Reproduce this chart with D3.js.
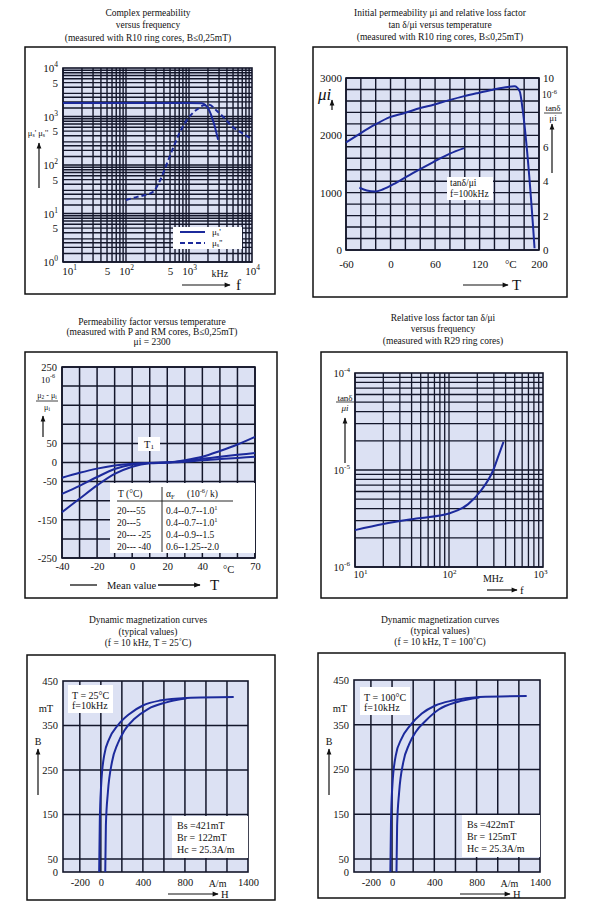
<!DOCTYPE html>
<html><head><meta charset="utf-8">
<script src="https://cdn.jsdelivr.net/npm/d3@7"></script>
<style>body{margin:0;background:#fff}</style>
</head><body>
<svg id="c" width="600" height="915"></svg>
<script>
// ---------------- DATA ----------------
// Panel 1: complex permeability vs frequency (kHz)
const p1FreqReal = [10, 100, 1000, 1600, 1800, 2000, 2500, 2900];
const p1MuReal   = [1900, 1900, 1900, 1880, 1750, 1500, 700, 330];
const p1FreqImag = [100, 150, 200, 270, 350, 450, 560, 720, 930, 1150, 1400, 1700, 2100, 2700, 3500, 5000, 7000, 9500];
const p1MuImag   = [19, 22, 24, 28, 49, 110, 225, 480, 850, 1180, 1450, 1700, 1750, 1350, 980, 600, 455, 355];
const p1XTicks = [10, 50, 100, 500, 1000, 10000];
const p1XLabels = ["10^{1}", "5", "10^{2}", "5", "10^{3}", "10^{4}"];
const p1YTicks = [1, 5, 10, 50, 100, 500, 1000, 5000, 10000];
const p1YLabels = ["10^{0}", "5", "10^{1}", "5", "10^{2}", "5", "10^{3}", "5", "10^{4}"];

// Panel 2: initial permeability and loss factor vs temperature
const p2TempMu = [-60, -40, -21, -1, 19, 40, 58, 78, 98, 118, 138, 158, 167, 174, 178, 185, 192, 194];
const p2Mu     = [1876, 2040, 2185, 2318, 2390, 2476, 2535, 2610, 2680, 2740, 2796, 2843, 2854, 2767, 2447, 1573, 408, 30];
const p2TempLoss = [-42, -32, -21, -10, 8, 30, 57, 80, 99];
const p2Loss     = [3.63, 3.46, 3.40, 3.53, 3.92, 4.47, 5.1, 5.6, 5.92];
const p2XTicks = [-60, 0, 60, 120, 200];
const p2YTicks = [0, 1000, 2000, 3000];
const p2Y2Ticks = [0, 2, 4, 6, 10];

// Panel 3: permeability factor vs temperature
const p3Temp  = [-40, -30, -20, -10, 0, 10, 20, 30, 40, 50, 60, 70];
const p3Steep = [-130, -95, -60, -30, -11, -2, 0, 6, 15, 30, 47, 67];
const p3Mid   = [-82, -61, -38, -17, -5, -1, 0, 4, 10, 15, 20, 25];
const p3Flat  = [-40, -27, -16, -8, -3, -1, 0, 2, 6, 9, 12, 15];
const p3XTicks = [-40, -20, 0, 20, 40, 70];
const p3YTicks = [-250, -150, -50, 0, 50, 250];
const p3TableT = ["20---55", "20---5", "20--- -25", "20--- -40"];
const p3TableAlpha = ["0.4--0.7--1.0^{1}", "0.4--0.7--1.0^{1}", "0.4--0.9--1.5", "0.6--1.25--2.0"];

// Panel 4: relative loss factor vs frequency (MHz)
const p4Freq = [10, 20, 45, 100, 160, 215, 296, 340, 380];
const p4Loss = [2.4e-6, 2.77e-6, 3.16e-6, 3.56e-6, 4.45e-6, 6e-6, 1e-5, 1.45e-5, 1.95e-5];
const p4XTicks = [10, 100, 1000];
const p4XLabels = ["10^{1}", "10^{2}", "10^{3}"];
const p4YTicks = [1e-6, 1e-5, 1e-4];
const p4YLabels = ["10^{-6}", "10^{-5}", "10^{-4}"];

// Panel 5: dynamic magnetization, 25 °C
const p5HLeft  = [-16, -10, 3, 32, 80, 160, 272, 400, 560, 816, 1264];
const p5BLeft  = [0, 134, 216, 283, 320, 350, 376, 395, 406, 412, 414];
const p5HRight = [42, 48, 67, 106, 160, 224, 320, 448, 624, 816];
const p5BRight = [0, 126, 200, 268, 309, 339, 365, 387, 402, 411];
// Panel 6: dynamic magnetization, 100 °C
const p6HLeft  = [-16, -10, 3, 35, 90, 170, 282, 410, 570, 826, 1274];
const p6BLeft  = [0, 132, 214, 281, 319, 348, 375, 393, 404, 412, 414];
const p6HRight = [42, 48, 67, 106, 163, 227, 323, 442, 618, 826];
const p6BRight = [0, 125, 199, 266, 307, 335, 360, 384, 401, 411];
const hXTicks = [-200, 0, 400, 800, 1400];
const hYTicks = [0, 50, 150, 250, 350, 450];
const hGridX = [-200, 0, 200, 400, 600, 800, 1000, 1200];
const hGridY = [50, 150, 250, 350];

// ---------------- HELPERS ----------------
const svg = d3.select("#c");
const SERIF = '"Liberation Serif","DejaVu Serif",serif';
const BG = "#dce1f3", GRID = "#13162a", CURVE = "#1c2a9c", INK = "#111";

svg.append("rect").attr("width", 600).attr("height", 915).attr("fill", "#fff");
svg.append("defs").append("marker").attr("id", "ah").attr("viewBox", "0 0 10 10")
  .attr("refX", 9).attr("refY", 5).attr("markerWidth", 6).attr("markerHeight", 5)
  .attr("orient", "auto").append("path").attr("d", "M0,1L10,5L0,9z").attr("fill", INK);

function rich(sel, s, fs) {
  const parts = String(s).split(/(\^\{[^}]*\}|_\{[^}]*\})/).filter(p => p !== "");
  if (parts.length === 1 && !/^[\^_]\{/.test(parts[0])) { sel.text(parts[0]); return; }
  sel.text(null);
  let off = 0;
  parts.forEach(p => {
    if (p.startsWith("^{") || p.startsWith("_{")) {
      const d = p[0] === "^" ? -0.42 * fs : 0.25 * fs;
      sel.append("tspan").attr("dy", d - off).attr("font-size", 0.68 * fs).text(p.slice(2, -1));
      off = d;
    } else {
      const t = sel.append("tspan").text(p);
      if (off !== 0) t.attr("dy", -off);
      off = 0;
    }
  });
}
function T(x, y, s, o = {}) {
  const fs = o.fs || 11;
  const t = svg.append("text").attr("x", x).attr("y", y).attr("font-family", SERIF)
    .attr("font-size", fs).attr("text-anchor", o.anchor || "start")
    .attr("dominant-baseline", "central").attr("fill", INK);
  if (o.italic) t.attr("font-style", "italic");
  rich(t, s, fs);
  return t;
}
function L(x1, y1, x2, y2, o = {}) {
  const l = svg.append("line").attr("x1", x1).attr("y1", y1).attr("x2", x2).attr("y2", y2)
    .attr("stroke", o.stroke || INK).attr("stroke-width", o.w || 1.2);
  if (o.arrow) l.attr("marker-end", "url(#ah)");
  return l;
}
function box(x0, y0, x1, y1) {
  svg.append("rect").attr("x", x0).attr("y", y0).attr("width", x1 - x0).attr("height", y1 - y0)
    .attr("fill", "none").attr("stroke", INK).attr("stroke-width", 1.5);
}
function whiteBox(x0, y0, x1, y1) {
  svg.append("rect").attr("x", x0).attr("y", y0).attr("width", x1 - x0).attr("height", y1 - y0).attr("fill", "#fff");
}
function titles(lines, cx, ys) {
  lines.forEach((s, i) => T(cx, ys[i], s, { fs: 9.5, anchor: "middle" }));
}
function plotArea(x, y, gx, gy, x0, y0, x1, y1, sw) {
  svg.append("rect").attr("x", x0).attr("y", y0).attr("width", x1 - x0).attr("height", y1 - y0).attr("fill", BG);
  const g = svg.append("g").attr("stroke", GRID).attr("stroke-width", sw || 1.2);
  g.selectAll(null).data(gx).join("line")
    .attr("x1", d => x(d)).attr("x2", d => x(d)).attr("y1", y0).attr("y2", y1);
  g.selectAll(null).data(gy).join("line")
    .attr("y1", d => y(d)).attr("y2", d => y(d)).attr("x1", x0).attr("x2", x1);
  svg.append("rect").attr("x", x0).attr("y", y0).attr("width", x1 - x0).attr("height", y1 - y0)
    .attr("fill", "none").attr("stroke", GRID).attr("stroke-width", 1.6);
}
function axis(gen, tx, ty, labels, fs, pad) {
  const g = svg.append("g").attr("transform", `translate(${tx},${ty})`);
  g.call(gen.tickSize(0).tickPadding(pad).tickFormat((d, i) => labels ? labels[i] : String(d)));
  g.select(".domain").remove();
  g.attr("font-family", SERIF).attr("font-size", fs);
  g.selectAll("text").attr("fill", INK).each(function () { rich(d3.select(this), this.textContent, fs); });
  return g;
}
function curve(x, y, xs, ys, o = {}) {
  const pts = xs.map((v, i) => [v, ys[i]]);
  const line = d3.line().x(d => x(d[0])).y(d => y(d[1])).curve(d3.curveMonotoneX);
  const p = svg.append("path").attr("d", line(pts)).attr("fill", "none")
    .attr("stroke", CURVE).attr("stroke-width", o.w || 2).attr("stroke-linejoin", "round");
  if (o.dash) p.attr("stroke-dasharray", o.dash);
  return p;
}
const decades = (starts, mults) => starts.flatMap(d => mults.map(m => d * m));

// ---------------- PANEL 1 ----------------
{
  const x0 = 63, x1 = 252, y0 = 68, y1 = 262;
  const x = d3.scaleLog().domain([10, 1e4]).range([x0, x1]);
  const y = d3.scaleLog().domain([1, 1e4]).range([y1, y0]);
  box(25, 47, 275, 294);
  titles(["Complex permeability", "versus frequency", "(measured with R10 ring cores, B≤0,25mT)"], 148, [13, 25, 38]);
  plotArea(x, y, decades([10, 100, 1000], [1, 2, 3, 4, 5, 6, 7, 8, 9]),
    decades([1, 10, 100, 1000], [1, 1.5, 2, 2.5, 3, 4, 5, 6, 7, 8, 9]), x0, y0, x1, y1, 1.4);
  curve(x, y, p1FreqReal, p1MuReal);
  curve(x, y, p1FreqImag, p1MuImag, { dash: "5,3" });
  const ax = axis(d3.axisBottom(x).tickValues(p1XTicks), 0, y1, p1XLabels, 11, 5);
  ax.select(".tick text").attr("dx", 6);
  axis(d3.axisLeft(y).tickValues(p1YTicks), x0, 0, p1YLabels, 11, 5);
  T(x(3100), 273, "kHz", { fs: 10, anchor: "middle" });
  whiteBox(173, 227, 242, 249);
  L(180, 232, 205, 232, { stroke: CURVE, w: 2 });
  L(180, 243, 205, 243, { stroke: CURVE, w: 2 }).attr("stroke-dasharray", "5,3");
  T(212, 232, "μ_{s}'", { fs: 9 });
  T(212, 243, "μ_{s}''", { fs: 9 });
  T(38, 133, "μ_{s}' μ_{s}''", { fs: 8.5, anchor: "middle" });
  L(39, 188, 39, 143, { arrow: true });
  L(182, 285, 230, 285, { arrow: true });
  T(236, 285, "f", { fs: 15 });
}

// ---------------- PANEL 2 ----------------
{
  const x0 = 346, x1 = 539, y0 = 78, y1 = 250;
  const x = d3.scaleLinear().domain([-60, 200]).range([x0, x1]);
  const y = d3.scaleLinear().domain([0, 3000]).range([y1, y0]);
  const y2 = d3.scaleLinear().domain([0, 10]).range([y1, y0]);
  box(313, 47, 567, 297);
  titles(["Initial permeability μi and relative loss factor", "tan δ/μi versus temperature", "(measured with R10 ring cores, B≤0,25mT)"], 440, [13, 25, 37]);
  plotArea(x, y, d3.range(-60, 201, 20), d3.range(0, 3001, 200), x0, y0, x1, y1, 1.4);
  curve(x, y, p2TempMu, p2Mu);
  curve(x, y2, p2TempLoss, p2Loss);
  axis(d3.axisLeft(y).tickValues(p2YTicks), x0, 0, null, 11, 4);
  axis(d3.axisRight(y2).tickValues(p2Y2Ticks), x1, 0, null, 11, 4);
  axis(d3.axisBottom(x).tickValues(p2XTicks), 0, y1, null, 11, 10);
  T(x(162), 264, "°C", { fs: 11, anchor: "middle" });
  T(318, 94, "μi", { fs: 17, italic: true });
  L(332, 110, 332, 100, { arrow: true });
  T(542, 95, "10^{-6}", { fs: 9.5 });
  T(553, 108, "tanδ", { fs: 9, anchor: "middle" });
  L(544, 113, 562, 113, { w: 0.8 });
  T(553, 118, "μi", { fs: 9, anchor: "middle" });
  L(552, 173, 552, 124, { arrow: true });
  whiteBox(447, 177, 493, 200);
  T(450, 183, "tanδ/μi", { fs: 9.5 });
  T(450, 194, "f=100kHz", { fs: 9.5 });
  L(463, 285, 508, 285, { arrow: true });
  T(512, 285, "T", { fs: 15 });
}

// ---------------- PANEL 3 ----------------
{
  const x0 = 62, x1 = 255, y0 = 367, y1 = 558;
  const x = d3.scaleLinear().domain([-40, 70]).range([x0, x1]);
  const y = d3.scaleLinear().domain([-250, 250]).range([y1, y0]);
  box(25, 352, 277, 598);
  titles(["Permeability factor versus temperature", "(measured with P and RM cores, B≤0,25mT)", "μi = 2300"], 152, [322, 332, 342]);
  plotArea(x, y, d3.range(-40, 71, 10), d3.range(-250, 251, 50), x0, y0, x1, y1, 1.5);
  curve(x, y, p3Temp, p3Steep);
  curve(x, y, p3Temp, p3Mid);
  curve(x, y, p3Temp, p3Flat);
  axis(d3.axisLeft(y).tickValues(p3YTicks), x0, 0, null, 10.5, 5);
  axis(d3.axisBottom(x).tickValues(p3XTicks), 0, y1, null, 10.5, 5);
  T(x(55), 569, "°C", { fs: 10.5, anchor: "middle" });
  T(48, 380, "10^{-6}", { fs: 9, anchor: "middle" });
  T(47, 395, "μ_{2} - μ_{i}", { fs: 8, anchor: "middle" });
  L(36, 401, 58, 401, { w: 0.8 });
  T(47, 407, "μ_{i}", { fs: 8, anchor: "middle" });
  L(43, 437, 43, 416, { arrow: true });
  whiteBox(138, 437, 160, 451);
  T(149, 444, "T_{1}", { fs: 10.5, anchor: "middle" });
  whiteBox(110, 483, 255, 553);
  T(118, 494, "T (°C)", { fs: 9.5 });
  T(166, 494, "α_{F}", { fs: 9.5 });
  T(187, 494, "(10^{-6}/ k)", { fs: 9.5 });
  L(117, 501, 233, 501, { w: 0.9 });
  L(162, 487, 162, 552, { w: 0.9 });
  p3TableT.forEach((s, i) => T(117, 511 + i * 12, s, { fs: 9.5 }));
  p3TableAlpha.forEach((s, i) => T(166, 511 + i * 12, s, { fs: 9.5 }));
  L(70, 585, 97, 585, { w: 1.3 });
  T(107, 585, "Mean value", { fs: 10.5 });
  L(158, 585, 200, 585, { arrow: true, w: 1.3 });
  T(210, 585, "T", { fs: 15 });
}

// ---------------- PANEL 4 ----------------
{
  const x0 = 355, x1 = 543, y0 = 373, y1 = 567;
  const x = d3.scaleLog().domain([10, 1000]).range([x0, x1]);
  const y = d3.scaleLog().domain([1e-6, 1e-4]).range([y1, y0]);
  box(321, 352, 567, 598);
  titles(["Relative loss factor tan δ/μi", "versus frequency", "(measured with R29 ring cores)"], 443, [318, 329, 341]);
  plotArea(x, y, decades([10, 100], [1, 2, 3, 4, 5, 6, 7, 8, 9]),
    decades([1e-6, 1e-5], [1, 2, 3, 4, 5, 6, 7, 8, 9]), x0, y0, x1, y1, 1.3);
  curve(x, y, p4Freq, p4Loss);
  axis(d3.axisLeft(y).tickValues(p4YTicks), x0, 0, p4YLabels, 10.5, 5);
  const axb = axis(d3.axisBottom(x).tickValues(p4XTicks), 0, y1, p4XLabels, 10.5, 4);
  axb.select(".tick text").attr("dx", 5);
  axb.selectAll(".tick text").filter((d, i) => i === 2).attr("dx", -3);
  T(x(295), 578, "MHz", { fs: 10, anchor: "middle" });
  T(345, 398, "tanδ", { fs: 9, anchor: "middle" });
  L(336, 402, 354, 402, { w: 0.8 });
  T(345, 408, "μi", { fs: 9, anchor: "middle", italic: true });
  L(345, 463, 345, 418, { arrow: true });
  L(487, 590, 517, 590, { arrow: true });
  T(520, 590, "f", { fs: 11 });
}

// ---------------- PANELS 5 & 6 ----------------
function hPanel(o) {
  const { x0, x1, y0, y1 } = o;
  const x = d3.scaleLinear().domain([-360, 1400]).range([x0, x1]);
  const y = d3.scaleLinear().domain([0, 50, 450]).range([y1, y1 - 13, y0]);
  box(...o.box);
  titles(["Dynamic magnetization curves", "(typical values)", o.title], o.tx, o.ty);
  plotArea(x, y, hGridX, hGridY, x0, y0, x1, y1, 1.5);
  curve(x, y, o.hl, o.bl);
  curve(x, y, o.hr, o.br);
  axis(d3.axisLeft(y).tickValues(hYTicks), x0, 0, null, 10.5, 5);
  axis(d3.axisBottom(x).tickValues(hXTicks), 0, y1, null, 10.5, 7);
  T(x(1110), 883, "A/m", { fs: 10, anchor: "middle" });
  T(o.mtX, 708, "mT", { fs: 10.5, anchor: "middle" });
  T(o.bX, 741, "B", { fs: 10, anchor: "middle" });
  L(o.bX, 795, o.bX, 749, { arrow: true });
  L(o.hA[0], 894, o.hA[1], 894, { arrow: true });
  T(o.hA[1] + 3, 894.5, "H", { fs: 10.5 });
  whiteBox(...o.tb);
  T(o.tb[0] + 4, o.tb[1] + 10, o.tLabel, { fs: 10 });
  T(o.tb[0] + 4, o.tb[1] + 20, "f=10kHz", { fs: 10 });
  whiteBox(...o.bb);
  o.bLines.forEach((s, i) => T(o.bb[0] + 5, o.bb[1] + 9 + i * 12, s, { fs: 10 }));
}
hPanel({ x0: 63, x1: 248, y0: 681, y1: 872, box: [27, 655, 275, 900],
  title: "(f = 10 kHz, T = 25˚C)", tx: 148, ty: [620, 632, 643],
  hl: p5HLeft, bl: p5BLeft, hr: p5HRight, br: p5BRight,
  mtX: 46, bX: 38, hA: [168, 218],
  tb: [68, 685, 113, 713], tLabel: "T = 25°C",
  bb: [172, 816, 248, 858], bLines: ["Bs =421mT", "Br = 122mT", "Hc = 25.3A/m"] });
hPanel({ x0: 354, x1: 540, y0: 680, y1: 872, box: [318, 653, 565, 898],
  title: "(f = 10 kHz, T = 100˚C)", tx: 440, ty: [620, 631, 642],
  hl: p6HLeft, bl: p6BLeft, hr: p6HRight, br: p6BRight,
  mtX: 340, bX: 329, hA: [460, 510],
  tb: [360, 687, 410, 715], tLabel: "T = 100°C",
  bb: [462, 815, 540, 857], bLines: ["Bs =422mT", "Br = 125mT", "Hc = 25.3A/m"] });
</script>
</body></html>
